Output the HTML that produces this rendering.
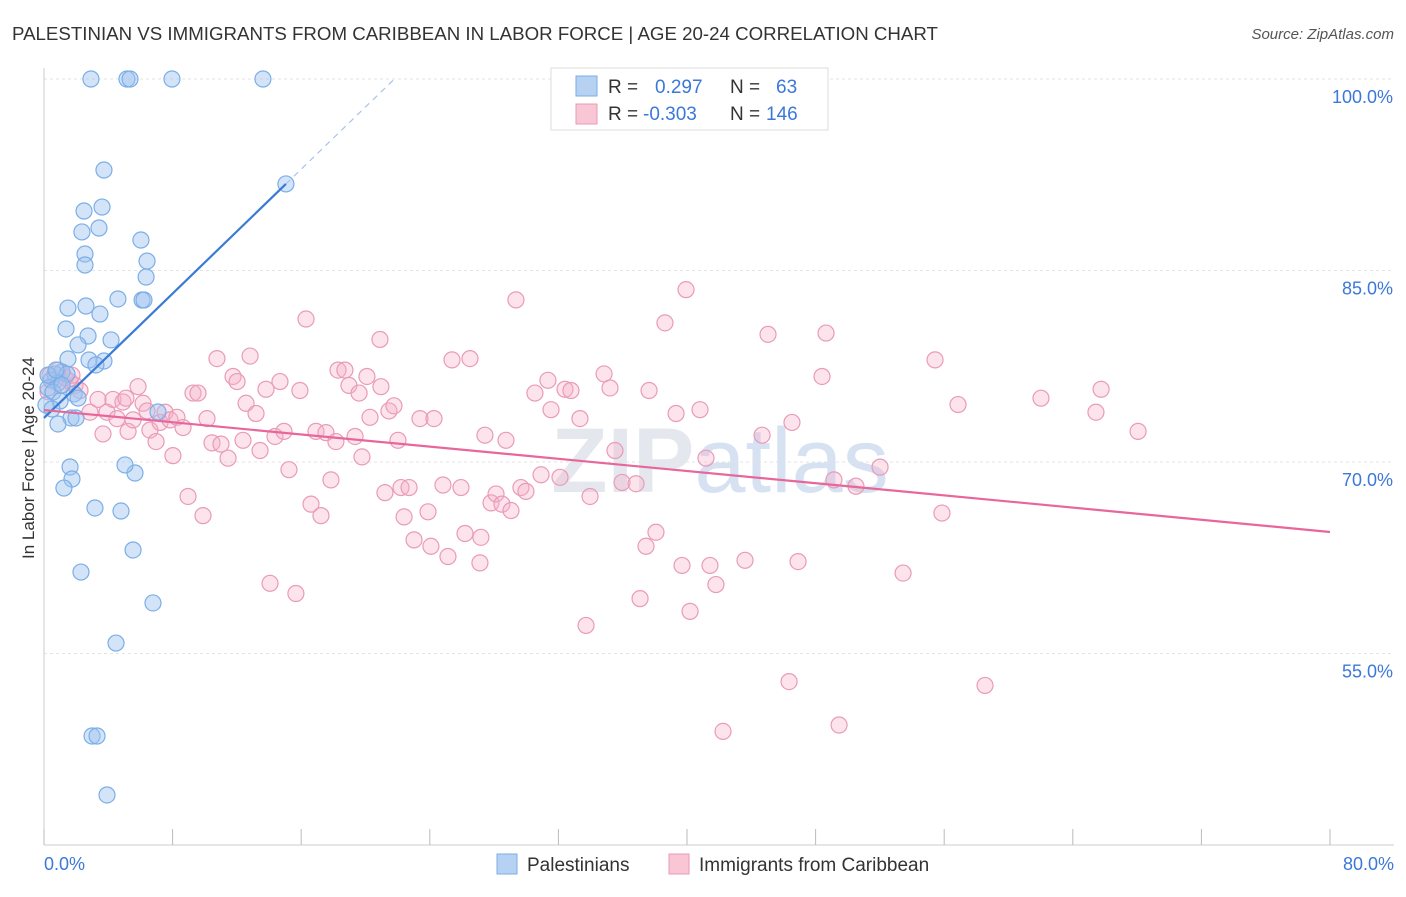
<!DOCTYPE html>
<html><head><meta charset="utf-8"><style>
body{margin:0;background:#fff;font-family:"Liberation Sans",sans-serif;}
svg text{font-family:"Liberation Sans",sans-serif;}
</style></head><body>
<svg id="chart" width="1406" height="892" xmlns="http://www.w3.org/2000/svg">
<text x="12" y="40" font-size="18.7" fill="#333">PALESTINIAN VS IMMIGRANTS FROM CARIBBEAN IN LABOR FORCE | AGE 20-24 CORRELATION CHART</text>
<text x="1394" y="39" font-size="15" fill="#555" text-anchor="end" font-style="italic">Source: ZipAtlas.com</text>
<text x="720" y="492" font-size="92" fill="#e4e8ee" text-anchor="middle" font-family="Liberation Serif" font-weight="bold">ZIP<tspan fill="#d6e2f2" font-family="Liberation Sans" font-weight="normal">atlas</tspan></text>
<g id="grid"></g>
<g id="axes"></g>
<g id="pts"></g>
<g id="lines"></g>
<text transform="translate(34,458) rotate(-90)" font-size="17" fill="#333" text-anchor="middle">In Labor Force | Age 20-24</text>
<g>
<rect x="551" y="68" width="277" height="62" fill="#fff" stroke="#ddd"/>
<rect x="576" y="76" width="21" height="20" fill="#b7d1f3" stroke="#7aaee8"/>
<rect x="576" y="104" width="21" height="20" fill="#f9c6d6" stroke="#e89ab5"/>
<text x="608" y="93" font-size="19" fill="#333">R =</text><text x="655" y="93" font-size="19" fill="#3b78d8">0.297</text>
<text x="730" y="93" font-size="19" fill="#333">N =</text><text x="776" y="93" font-size="19" fill="#3b78d8">63</text>
<text x="608" y="120" font-size="19" fill="#333">R =</text><text x="643" y="120" font-size="19" fill="#3b78d8">-0.303</text>
<text x="730" y="120" font-size="19" fill="#333">N =</text><text x="766" y="120" font-size="19" fill="#3b78d8">146</text>
</g>
<g>
<rect x="497" y="854" width="20" height="20" fill="#b7d1f3" stroke="#7aaee8"/>
<text x="527" y="871" font-size="19" fill="#333">Palestinians</text>
<rect x="669" y="854" width="20" height="20" fill="#f9c6d6" stroke="#e89ab5"/>
<text x="699" y="871" font-size="19" fill="#333">Immigrants from Caribbean</text>
</g>
</svg>
<script>
const blueX=[2.92,5.16,5.35,7.96,13.62,3.73,2.49,3.61,2.36,3.42,2.55,2.55,6.03,6.41,6.35,4.60,6.10,6.22,1.49,2.61,3.48,1.37,2.74,2.12,4.17,1.49,2.80,3.73,3.23,1.12,0.68,1.43,0.44,0.87,0.25,0.56,1.87,2.12,1.00,0.12,0.50,1.68,1.99,0.87,1.62,1.74,1.24,5.66,5.04,3.17,4.79,5.54,2.30,6.78,4.48,2.99,3.30,3.92,15.05,7.09,0.25,0.75,1.12];
const blueY=[100,100,100,100,100,92.87,89.66,89.97,88.02,88.33,86.29,85.43,87.39,85.74,84.49,82.77,82.69,82.69,82.06,82.22,81.59,80.42,79.87,79.17,79.56,78.07,77.99,77.91,77.60,77.05,76.89,76.89,76.42,76.19,75.80,75.48,75.33,75.01,74.78,74.47,74.15,73.45,73.45,72.98,69.61,68.67,67.96,69.14,69.77,66.40,66.16,63.11,61.38,58.96,55.82,48.54,48.54,43.92,91.78,73.92,76.81,77.21,76.03];
const pinkX=[0.37,0.68,1.0,1.31,1.62,1.93,0.25,0.87,1.74,2.24,2.86,3.36,3.67,3.92,4.54,4.29,4.91,5.10,5.23,5.54,5.85,6.16,6.41,6.59,6.97,7.22,7.53,7.84,8.02,8.27,8.65,8.96,9.27,9.58,9.89,10.14,10.45,10.76,11.01,11.45,11.76,12.01,12.38,12.57,12.82,13.19,13.44,13.81,14.06,14.37,14.68,14.93,15.24,15.67,15.92,16.30,16.61,16.92,17.23,17.54,17.85,18.16,18.29,18.72,18.97,19.35,19.60,19.78,20.09,20.28,20.90,20.96,21.21,21.46,21.77,22.02,22.21,22.40,22.71,23.02,23.39,23.89,24.07,24.26,24.82,25.13,25.38,25.94,26.19,26.50,27.12,27.18,27.43,27.81,28.12,28.49,28.74,29.05,29.36,29.67,29.98,30.54,30.92,31.35,31.54,32.10,32.41,32.78,33.34,33.72,33.97,34.84,35.21,35.52,35.96,36.83,37.08,37.45,37.64,38.07,38.63,39.32,39.69,39.94,40.19,40.81,41.18,41.43,41.80,42.24,43.61,44.67,45.04,46.35,46.53,46.91,48.40,48.65,49.14,49.46,50.51,52.01,53.44,55.43,55.86,56.86,58.54,62.02,65.44,65.76,68.06];
const pinkY=[76.8,76.4,76.0,76.6,76.3,76.0,75.5,77.2,76.8,75.6,73.9,74.9,72.2,73.9,73.4,74.9,74.7,75.0,72.4,73.3,75.9,74.6,74.0,72.5,71.6,73.1,73.9,73.3,70.5,73.5,72.7,67.3,75.4,75.4,65.8,73.4,71.5,78.1,71.4,70.3,76.7,76.3,71.7,74.6,78.3,73.8,70.9,75.7,60.5,72.0,76.3,72.4,69.4,59.7,75.6,81.2,66.7,72.4,65.8,72.3,68.6,71.6,77.2,77.2,76.0,72.0,75.4,70.4,76.7,73.5,79.6,75.9,67.6,74.0,74.4,71.7,68.0,65.7,68.0,63.9,73.4,66.1,63.4,73.4,68.2,62.6,78.0,68.0,64.4,78.1,62.1,64.1,72.1,66.8,67.5,66.7,71.7,66.2,82.7,68.0,67.7,75.4,69.0,76.4,74.1,68.8,75.7,75.6,73.4,57.2,67.3,76.9,75.8,70.9,68.4,68.3,59.3,63.4,75.6,64.5,80.9,73.8,61.9,83.5,58.3,74.1,70.3,61.9,60.4,48.9,62.3,72.1,80.0,52.8,73.1,62.2,76.7,80.1,68.6,49.4,68.1,69.6,61.3,78.0,66.0,74.5,52.5,75.0,73.9,75.7,72.4];
const yTicks=[100,85,70,55];
const yTickLabels=["100.0%","85.0%","70.0%","55.0%"];
const xTicks=[0,10,20,30,40,50,60,70,80,90,100].map(i=>i*0.8);
const blueTrend=[0,73.45,15.05,91.78,21.8];
const pinkTrend=[0,74.07,80,64.52];
const X=v=>44+v*16.075, Y=v=>79+(100-v)*12.767;
const NS="http://www.w3.org/2000/svg";
function mk(tag,attrs,parent){const e=document.createElementNS(NS,tag);for(const k in attrs)e.setAttribute(k,attrs[k]);document.getElementById(parent).appendChild(e);return e;}
yTicks.forEach((t,i)=>{
 const l=mk('line',{x1:44,x2:1394,y1:Y(t),y2:Y(t),stroke:'#e3e3e3','stroke-dasharray':'3,3'},'grid');
 
 
 const tx=mk('text',{x:1393,y:Y(t)+24,'font-size':18,fill:'#3b78d8','text-anchor':'end'},'grid');
 tx.textContent=yTickLabels[i];
 
 
});
const ax=mk('line',{x1:44,x2:1394,y1:845,y2:845,stroke:'#ccc'},'axes');


const ay=mk('line',{x1:44,x2:44,y1:68,y2:845,stroke:'#ccc'},'axes');


xTicks.forEach(t=>{
 const l=mk('line',{x1:X(t),x2:X(t),y1:829,y2:845,stroke:'#bbb'},'axes');
 
 
});
const xl0=mk('text',{x:44,y:870,'font-size':18,fill:'#3b78d8'},'axes');xl0.textContent='0.0%';


const xl1=mk('text',{x:1394,y:870,'font-size':18,fill:'#3b78d8','text-anchor':'end'},'axes');xl1.textContent='80.0%';


pinkX.forEach((v,i)=>{
 const c=mk('circle',{cx:X(v),cy:Y(pinkY[i]),r:8,fill:'rgba(245,175,200,0.35)',stroke:'#e99bb7','stroke-width':1.2},'pts');
 
 
});
blueX.forEach((v,i)=>{
 const c=mk('circle',{cx:X(v),cy:Y(blueY[i]),r:8,fill:'rgba(160,195,240,0.45)',stroke:'#7aaee8','stroke-width':1.2},'pts');
 
 
});
const slope=(blueTrend[3]-blueTrend[1])/(blueTrend[2]-blueTrend[0]);
const bl=mk('line',{x1:X(blueTrend[0]),y1:Y(blueTrend[1]),x2:X(blueTrend[2]),y2:Y(blueTrend[3]),stroke:'#3a7bd5','stroke-width':2.2},'lines');


const bd=mk('line',{x1:X(blueTrend[2]),y1:Y(blueTrend[3]),x2:X(blueTrend[4]),y2:Y(blueTrend[1]+slope*blueTrend[4]),stroke:'#a8c4ea','stroke-width':1.2,'stroke-dasharray':'6,5'},'lines');


const pl=mk('line',{x1:X(pinkTrend[0]),y1:Y(pinkTrend[1]),x2:X(pinkTrend[2]),y2:Y(pinkTrend[3]),stroke:'#e8679a','stroke-width':2.2},'lines');


</script>
</body></html>
